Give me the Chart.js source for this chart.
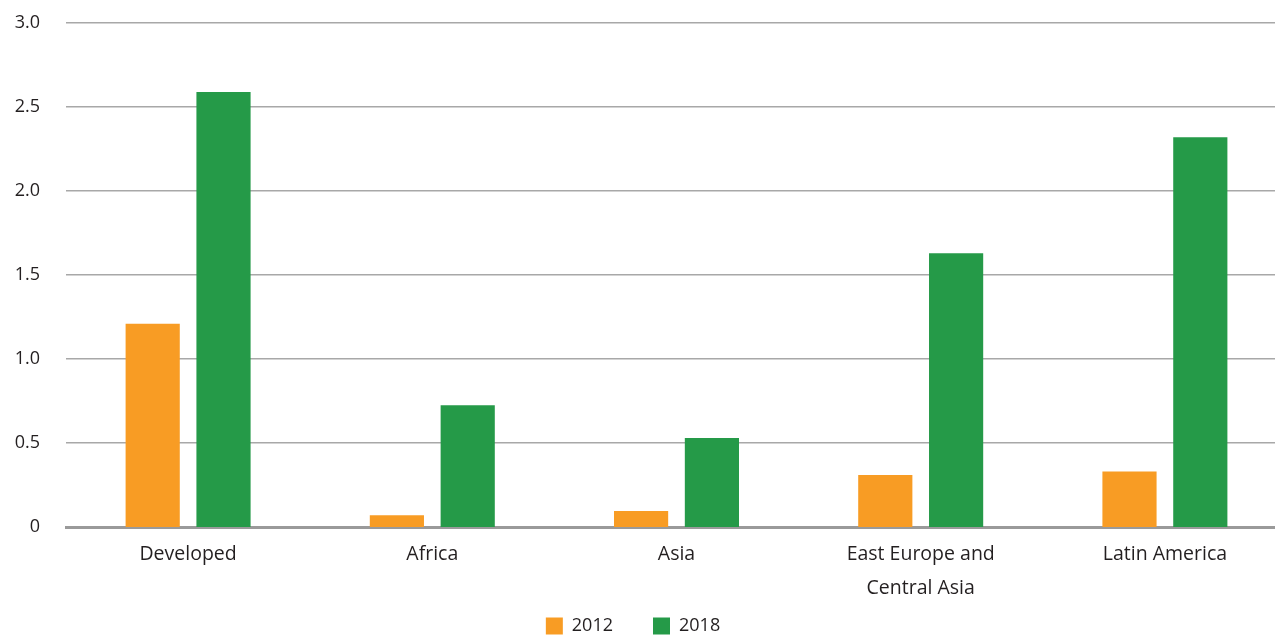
<!DOCTYPE html>
<html>
<head>
<meta charset="utf-8">
<script src="https://cdn.jsdelivr.net/npm/chart.js@4"></script>
<style>
  html, body { margin: 0; padding: 0; background: #fff; overflow: hidden; }
  #wrap { position: relative; width: 1287px; height: 638px; }
</style>
</head>
<body>
<div id="wrap"><canvas id="regions-chart"></canvas></div>
<script>
// values
const categories = ['Developed', 'Africa', 'Asia', ['East Europe and', 'Central Asia'], 'Latin America'];
const values2012 = [1.21, 0.07, 0.095, 0.31, 0.33];
const values2018 = [2.59, 0.725, 0.53, 1.63, 2.32];
const seriesNames = ['2012', '2018'];

const textColor = '#231f20';
const fontFamily = '"Open Sans", Lato, sans-serif';

const ctx = document.getElementById('regions-chart').getContext('2d');

const myChart = new Chart(ctx, {
    type: 'bar',
    data: {
        labels: categories,
        datasets: [
            {
                label: seriesNames[0],
                data: values2012,
                backgroundColor: '#f89c24',
                borderWidth: 0,
            },
            {
                label: seriesNames[1],
                data: values2018,
                backgroundColor: '#259a48',
                borderWidth: 0,
            }
        ]
    },
    options: {
        responsive: true,
        maintainAspectRatio: false,
        animation: false,
        categoryPercentage: 0.58,
        barPercentage: 0.765,
        layout: {
            autoPadding: false,
            padding: { top: 23, right: 0, bottom: -7, left: -21 }
        },
        plugins: {
            legend: {
                position: 'bottom',
                labels: {
                    boxWidth: 17,
                    boxHeight: 17,
                    padding: 40,
                    color: textColor,
                    font: { family: fontFamily, size: 18 }
                }
            },
            tooltip: { enabled: false }
        },
        scales: {
            x: {
                grid: { display: false, drawTicks: false },
                border: { display: true, color: '#9a9a9a', width: 3 },
                afterFit: (scale) => {
                    scale.height = 50;
                    // let the two-line label run below the axis box
                    scale._computeLabelArea = () => undefined;
                },
                ticks: {
                    color: textColor,
                    padding: 10,
                    font: { family: fontFamily, size: 19.5, lineHeight: 1.75 }
                }
            },
            y: {
                min: 0,
                max: 3,
                grid: {
                    drawTicks: false,
                    color: '#a8a8a8',
                    lineWidth: (c) => c.index === 0 ? 0 : 1.5
                },
                border: { display: false },
                afterFit: (scale) => {
                    scale.width = 87;
                    // tick padding would otherwise push the top gridline down
                    scale.paddingTop = 0;
                    scale.paddingBottom = 0;
                },
                ticks: {
                    stepSize: 0.5,
                    padding: 26,
                    color: textColor,
                    font: { family: fontFamily, size: 18 },
                    callback: (v) => v === 0 ? '0' : v.toFixed(1)
                }
            }
        }
    }
});
</script>
</body>
</html>
